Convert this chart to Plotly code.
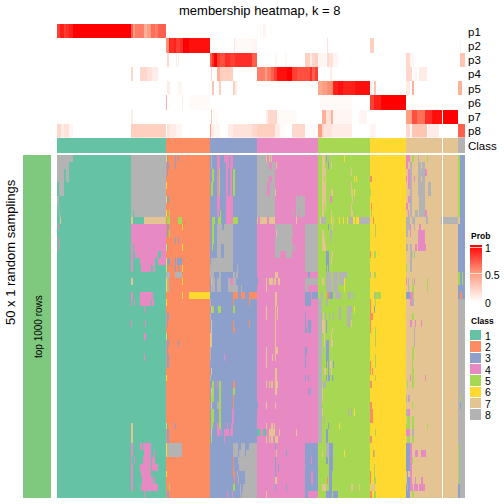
import numpy as np
import plotly.graph_objects as go

# ---------- data ----------
CLASS_LABELS = [1, 2, 3, 4, 5, 6, 7, 8]
CLASS_COLORS = ["#66C2A5", "#FC8D62", "#8DA0CB", "#E78AC3", "#A6D854", "#FFD92F", "#E5C494", "#B3B3B3"]
CLASS_SIZES = [109, 44, 47, 61, 52, 36, 52, 7]
GAP_SAMPLE = 385
N_ROWS = 50
PROB_LABELS = ["p1", "p2", "p3", "p4", "p5", "p6", "p7", "p8"]
PROB_TICKS = ["1", "0.5", "0"]

# Sample spans below are read in thirds of a sample, with an offset per half.
OFF_LEFT, OFF_RIGHT, OFF_PL, OFF_PR = -21, 579, -171, 585

# (first row, last row, class, [from, to, from, to ...])
PATCH_LEFT = [
 (0,0,8,[21,69]),(1,1,8,[21,57]),(2,3,8,[21,42,48,57]),(4,5,8,[27,42]),(6,6,8,[21,27]),(7,7,8,[24,27]),(8,8,8,[27,30]),
 (9,9,7,[30,33]),(10,10,4,[24,27]),(12,13,4,[27,30]),
 (0,8,8,[243,347]),(8,8,1,[249,252]),(9,9,7,[243,249,282,347]),(10,12,4,[243,347]),(13,13,4,[243,249,252,347]),
 (14,14,4,[243,249,255,323,333,347]),(15,15,4,[243,249,270,315,323,347]),(16,16,4,[243,249,273,303,309,315]),
 (18,18,7,[243,249]),(20,20,4,[243,249,270,309]),(21,21,4,[243,246,252,255,270,303,306,311]),(22,22,4,[282,285]),
 (24,24,4,[243,245,285,288]),(26,26,4,[282,288]),(29,29,4,[282,285]),(39,41,7,[243,249]),
 (42,42,4,[243,249,270,276,279,303]),(43,43,4,[243,249,282,303,312,315]),(44,44,4,[243,246,252,255,279,303,306,315]),
 (45,45,4,[243,249,270,303,306,324]),(46,46,4,[243,249,273,303]),(47,47,4,[243,249,276,309,312,315]),
 (48,48,4,[243,249,270,273,276,324]),(49,49,4,[282,285]),
 # class 2 block
 (0,0,6,[348,351]),(0,0,3,[351,354,375,378,384,387]),(1,1,3,[351,357,375,378]),(2,2,3,[351,354]),(4,4,6,[348,351]),
 (6,6,6,[348,351]),(6,6,3,[351,357]),(8,8,6,[348,351]),(8,8,5,[357,360]),(9,9,5,[351,360,384,396]),
 (10,10,3,[351,357]),(10,10,6,[396,399]),(11,11,5,[357,360]),(11,11,3,[351,354]),(12,12,3,[375,378,384,387]),
 (13,13,6,[348,351,396,399]),(13,13,3,[351,354]),(15,15,6,[348,351]),(15,15,3,[351,360,375,378,381,396]),
 (16,16,6,[348,351,396,399]),(16,16,3,[351,354,375,378,384,387]),(17,17,8,[348,360,375,396]),
 (18,18,6,[348,351,396,399]),(18,18,8,[351,357]),(19,19,6,[348,351]),(19,19,8,[351,357]),
 (20,20,6,[396,399,417,480]),(21,21,6,[348,351]),(23,23,3,[351,357]),(24,24,3,[351,354]),
 (26,26,6,[348,351]),(26,26,3,[351,354]),(27,27,3,[351,357,384,387]),(28,28,3,[351,354]),(29,30,3,[351,357]),
 (32,32,6,[348,351]),(39,39,6,[348,351]),(39,39,3,[351,354,375,378]),(40,41,3,[351,357]),
 (42,43,6,[348,351]),(42,43,8,[351,396]),(46,46,6,[348,351]),(48,48,5,[357,360]),(49,49,3,[351,357]),
 # class 3 block
 (0,0,4,[501,510,522,537,540,549]),(0,1,8,[483,486]),(1,1,4,[501,510,528,537,540,549]),
 (2,3,5,[486,492,507,510,549,555]),(2,3,4,[501,507,528,534,540,546]),
 (4,5,5,[483,489,507,510,549,555]),(4,5,4,[501,507,528,534,540,546]),
 (6,7,4,[501,510,528,549]),(8,8,4,[501,507,528,549]),(8,8,5,[510,513]),
 (9,9,5,[486,495,504,513,549,564]),(9,9,4,[528,549]),(9,9,7,[621,624]),
 (10,10,5,[486,492]),(10,10,8,[501,516,522,549]),(11,12,5,[486,492]),(11,12,8,[501,549]),
 (13,13,5,[486,489]),(13,14,8,[501,513,522,549]),(15,15,8,[483,549]),(16,16,8,[480,549,561,564]),
 (17,17,8,[480,492,507,513,549,555,558,564]),(18,18,8,[483,495,501,513,534,540,549,558]),(18,18,7,[483,486]),
 (18,18,4,[540,549]),(19,19,8,[483,495,501,513,534,564,573,576]),(20,20,2,[549,564,573,585,597,621]),
 (21,21,2,[549,552,597,600]),(21,21,8,[480,483]),(22,22,5,[486,492,504,513,549,555]),(22,22,7,[483,486]),
 (23,23,8,[480,483]),(24,24,7,[483,486]),(24,24,2,[549,552,597,600]),(25,25,7,[483,486]),(25,25,2,[549,555]),
 (26,27,7,[480,486]),(28,28,8,[480,483]),(29,29,8,[480,483]),(29,29,4,[522,525]),(31,31,7,[483,486]),(32,32,8,[480,483]),
 (33,33,5,[486,492,507,513]),(33,33,4,[501,504]),(33,33,2,[549,555]),(34,34,7,[483,486]),(34,34,5,[486,492,507,513,549,555]),
 (35,35,5,[483,492,507,513]),(35,35,2,[549,552]),(36,36,7,[483,486]),(36,36,8,[501,507]),(36,36,5,[507,513]),(36,36,2,[549,552]),
 (37,38,5,[483,492,507,513]),(37,38,4,[546,552]),(39,39,5,[483,489]),(39,39,4,[501,507,531,534,543,549]),(39,39,5,[507,513]),
 (40,40,7,[483,486]),(40,40,4,[501,510,513,516,522,537,540,549]),(41,41,5,[483,486]),(41,41,4,[522,525]),
 (42,42,8,[549,564,573,585,597,621]),(43,43,8,[549,564,567,585,588,621]),(44,44,2,[549,552]),(44,44,8,[564,621]),
 (45,45,2,[549,552]),(45,45,8,[567,621]),(46,46,2,[549,555]),(46,46,8,[561,564,585,621]),
 (47,47,2,[552,555]),(47,47,8,[564,567,585,621]),(48,48,5,[549,555]),(48,48,8,[570,573,579,621]),
 (49,49,4,[531,534,546,549]),(49,49,8,[570,573,576,621]),
]
PATCH_RIGHT = [
 # class 4 block
 (0,0,8,[21,48,60,63]),(0,0,7,[48,51,57,60,63,66]),(1,1,8,[21,57,66,75]),(1,1,7,[78,81]),(2,2,8,[21,75]),
 (3,3,8,[21,57,66,75]),(4,4,8,[21,51,60,75]),(5,5,8,[21,51,60,75]),(5,5,7,[75,78]),
 (6,6,8,[21,75,138,144,147,165]),(7,7,8,[21,75,138,165]),(8,8,8,[21,75,126,129,138,147,150,165]),
 (9,9,7,[21,24,30,51,57,75,138,141]),(10,10,8,[75,126,165,204]),(11,11,7,[78,81]),(11,11,8,[81,129,165,204]),
 (12,12,8,[75,126,165,204]),(13,13,8,[75,129,132,135,165,204]),(14,14,8,[75,90,108,126,165,204]),(15,16,8,[165,204]),
 (17,17,7,[75,84]),(17,17,3,[174,180]),(18,18,3,[21,24]),(18,18,7,[48,51,57,69,72,78,84,90]),(18,18,8,[165,204]),
 (19,19,7,[48,51]),(19,19,8,[165,174]),(20,20,7,[75,81]),(20,20,3,[165,183,186,204,237,249]),(20,20,8,[213,219]),(20,20,2,[232,237]),
 (21,21,7,[75,81]),(21,21,3,[165,183]),(22,22,7,[48,51,75,78,81,84]),(23,23,7,[48,51,75,78,81,84]),(23,23,3,[165,168]),
 (24,24,7,[75,78]),(24,24,3,[165,168,174,183]),(25,25,7,[75,78]),(25,25,3,[165,171,174,183]),(26,27,7,[75,78]),
 (28,28,7,[48,51,75,84]),(28,28,3,[165,171]),(29,29,7,[48,51,66,69,75,78]),(29,29,3,[165,168]),(30,30,7,[48,51]),(30,30,3,[165,168]),
 (31,31,7,[75,81]),(32,32,7,[75,81]),(32,32,3,[165,168,174,177]),(33,33,7,[48,51,57,60,63,69,75,84]),
 (34,34,7,[75,81]),(34,34,3,[174,177,180,183]),(36,36,3,[21,24]),(36,36,7,[48,51,75,78]),
 (39,39,7,[48,51,63,69,72,75]),(40,40,1,[21,30,39,48]),(40,40,7,[57,75,87,90,138,141]),(41,41,7,[48,51,57,60,63,69,75,84]),
 (42,42,3,[75,78,165,204]),(43,43,7,[78,81]),(43,43,3,[108,111,165,204]),(44,44,3,[75,78,165,183]),(44,44,4,[183,186]),(44,44,3,[186,204]),
 (45,45,3,[75,78,84,87,165,204]),(46,46,3,[75,78,165,183,189,204]),(46,46,4,[183,189]),(47,47,7,[75,81]),(47,47,3,[165,183,189,204]),(47,47,4,[183,189]),
 (48,48,3,[75,78,108,111,165,204]),(49,49,7,[48,51]),(49,49,3,[165,174]),
 # class 5 block
 (0,0,7,[216,225]),(0,0,3,[228,231]),(0,0,8,[234,238]),(0,0,6,[282,285]),(1,1,7,[216,225,243,246]),(1,1,3,[234,237]),
 (2,2,7,[216,228,303,306]),(3,3,7,[216,222,225,228]),(3,3,6,[312,315,318,321]),(4,4,7,[216,228,303,306]),
 (5,5,7,[216,228,243,249,303,309]),(5,5,6,[312,315]),(6,6,7,[216,228,306,309]),(6,6,4,[240,246]),
 (7,7,7,[216,222,225,228,303,306]),(8,8,7,[216,222,243,246,303,309]),
 (9,9,7,[210,213,249,252]),(9,9,8,[213,228,297,309,327,360]),(9,9,6,[243,246,267,270,279,282,291,294,309,315,318,327]),
 (10,10,3,[234,237]),(10,10,7,[246,249]),(11,11,7,[216,222]),(11,11,8,[240,246]),(12,12,7,[216,225]),(12,12,8,[240,243]),
 (13,13,7,[216,228]),(14,14,3,[228,237]),(14,14,7,[246,249]),(15,15,3,[228,237]),(15,15,7,[243,246]),(16,16,3,[228,231,234,237]),
 (17,17,8,[228,243,249,264,267,291]),(18,18,7,[216,222]),(18,18,8,[228,246,249,264,267,282]),(18,18,6,[282,285]),
 (19,19,8,[228,246,249,264]),(19,19,6,[282,285]),(20,20,8,[255,273,294,303,309,312]),(21,21,8,[204,216,228,234]),
 (22,22,8,[204,216,267,273,291,306]),(22,22,6,[312,315]),(23,23,8,[204,216,225,228,237,240,249,252,267,273,291,303]),(23,23,7,[219,222]),
 (24,24,8,[204,216,291,300]),(24,24,7,[216,225,303,306]),(24,24,3,[228,231]),(25,25,8,[204,216]),(25,25,7,[216,225,246,249]),(25,25,3,[228,231]),
 (26,26,8,[204,216]),(26,26,7,[222,225,243,246]),(27,27,8,[204,216]),(27,27,7,[222,225,243,249]),(27,27,3,[228,237]),
 (28,28,8,[204,216,219,222]),(28,28,3,[228,237]),(29,29,8,[204,216]),(29,29,3,[228,237]),
 (30,30,8,[204,216]),(30,30,3,[228,231,234,237,249,252]),(30,30,7,[240,246]),(31,31,8,[204,216]),(31,31,7,[222,228,243,246]),(31,31,3,[234,237]),
 (32,32,8,[204,216]),(32,32,3,[228,231,234,240,246,249]),(33,33,8,[204,216,219,228]),(34,35,8,[204,216]),(34,35,7,[216,219]),
 (36,36,8,[204,216]),(37,37,8,[204,216,294,297,303,306]),(37,37,7,[216,219]),(37,37,6,[312,315]),(38,38,8,[204,216,222,225]),
 (39,39,8,[204,216]),(39,39,3,[234,237]),(39,39,6,[267,270]),(40,41,8,[204,216]),(40,41,3,[228,234]),
 (42,42,8,[228,237]),(42,42,3,[237,249]),(43,43,7,[216,219]),(43,43,8,[228,237]),(43,43,3,[237,249]),(43,43,6,[282,285]),
 (44,44,3,[228,234,237,249]),(45,45,3,[237,249]),(46,46,3,[237,246]),(47,47,2,[231,234]),(47,47,3,[237,246]),
 (48,48,7,[216,228,303,309,327,330]),(48,48,3,[237,246]),(49,49,3,[228,246,249,264]),
 # class 6 block
 (3,3,2,[360,366]),(5,5,5,[360,363]),(7,7,2,[363,366]),(8,8,5,[363,366]),(9,9,2,[369,372]),(10,11,5,[375,378]),
 (14,14,2,[360,363]),(14,14,5,[372,378]),(17,17,8,[360,363]),(17,17,5,[372,378]),(20,20,8,[372,375]),(20,20,5,[375,393]),
 (21,21,2,[360,363]),(21,21,5,[375,378]),(22,22,2,[360,363]),(22,22,3,[372,375]),(23,23,2,[360,369]),(24,24,2,[360,363]),
 (25,25,2,[360,363]),(25,25,5,[375,378]),(26,27,5,[375,378]),(29,30,5,[375,378]),(30,30,2,[360,363]),(31,31,2,[360,363,366,369]),
 (32,32,5,[375,378]),(33,33,2,[360,366]),(36,36,2,[360,366]),(37,38,2,[360,369]),(40,40,5,[375,378]),(41,41,2,[360,366]),
 (43,43,2,[369,372]),(43,43,5,[372,375]),(45,46,5,[372,375]),(46,47,2,[360,363]),(47,47,5,[372,378]),(48,48,7,[363,375]),
 (49,49,2,[360,366]),(49,49,5,[372,378]),
 # class 7 block
 (0,0,4,[468,480]),(0,0,5,[486,492,531,534]),(0,0,8,[504,507]),(1,1,4,[468,474]),(1,1,8,[480,486,504,513,516,525]),
 (2,2,4,[474,480,525,531]),(2,2,8,[480,486,504,525]),(3,3,4,[468,471,474,480,492,495]),(3,3,8,[480,486,504,513,516,525]),
 (4,5,8,[480,486,504,525,534,543]),(4,4,4,[474,480]),(6,6,4,[474,480]),(6,6,8,[480,486,507,525]),(7,7,4,[468,474]),(7,7,8,[480,486,507,525]),
 (8,8,8,[480,486,495,504,507,525]),(8,8,4,[474,477,525,531]),(9,9,8,[468,480,486,495,528,534,573,624]),
 (10,10,8,[468,480,492,495]),(10,10,4,[480,483,507,513]),(11,11,8,[468,474]),(11,11,4,[480,483,504,525]),(12,12,4,[504,525]),
 (13,13,8,[468,474,480,486]),(13,13,4,[495,501,504,528]),(14,14,8,[480,486,492,495]),(14,14,5,[486,489]),(15,16,8,[480,486]),
 (16,16,5,[468,471]),(18,18,4,[468,471,492,495]),(18,18,8,[474,477]),(18,18,5,[486,489,531,534]),(19,19,8,[474,477]),(19,19,5,[486,492,531,534]),
 (20,20,3,[468,480]),(20,20,4,[480,489]),(20,20,5,[489,492]),(21,21,4,[480,486]),(21,21,8,[486,492]),(23,23,5,[486,492]),
 (24,24,4,[480,486,495,498,513,516]),(25,27,8,[492,495]),(28,29,5,[486,492]),(30,30,5,[486,489]),(31,31,5,[486,492]),
 (32,32,4,[480,483,525,528]),(32,32,5,[486,492]),(33,33,5,[471,474,486,492]),(35,35,8,[468,471,477,480]),(35,35,4,[474,477]),
 (36,36,5,[486,489]),(37,37,8,[468,474]),(37,37,4,[474,480]),(38,38,5,[471,480,486,492]),(39,39,5,[468,480,486,492,531,534]),
 (40,40,4,[468,480]),(40,40,8,[486,492]),(41,41,5,[471,480,486,492]),(42,42,3,[468,480]),(42,42,4,[480,486]),
 (43,43,3,[468,480]),(43,43,4,[480,486,495,504,513,528]),(44,44,3,[468,480]),(44,44,4,[480,486]),(44,44,5,[486,489]),
 (45,45,3,[468,480]),(45,45,4,[480,486]),(46,46,3,[471,474]),(46,46,4,[480,486]),(47,47,3,[471,480]),(47,47,4,[480,486,495,498,513,519]),
 (48,48,3,[468,471,474,480]),(48,48,8,[471,474]),(48,48,4,[480,489,492,504,507,525]),(49,49,3,[468,480]),(49,49,5,[486,492]),
 # class 8 block
 (0,19,3,[630,645]),(0,8,5,[624,630]),(9,9,7,[624,630]),(10,16,3,[624,630]),(17,18,5,[624,630,636,639]),(19,19,3,[624,630]),
 (20,20,2,[630,636]),(20,20,3,[624,630,636,645]),(35,35,5,[630,633]),(36,36,3,[630,633]),(42,47,5,[624,627]),(48,49,3,[624,630]),
]

# (probability row, from, to, value)
PROB_LEFT = [
 (0,171,180,.8),(0,180,192,.9),(0,192,198,.8),(0,198,207,.85),(0,207,219,.9),(0,219,393,1),(0,393,399,.7),(0,399,405,.5),(0,405,432,.6),
 (0,432,441,.4),(0,441,453,.5),(0,453,465,.65),(0,465,474,.6),(0,474,498,.7),
 (1,498,507,.55),(1,507,510,.9),(1,510,522,.85),(1,522,528,.9),(1,528,540,.8),(1,540,549,.85),(1,549,567,1),(1,567,630,.95),
 (1,702,705,.15),(1,705,756,.03),
 (2,501,507,.2),(2,528,531,.1),(2,534,537,.1),(2,630,636,.7),(2,636,642,.85),(2,642,651,1),(2,651,660,.8),(2,660,675,.75),(2,675,690,.85),(2,690,705,.8),(2,705,756,.85),
 (3,393,399,.2),(3,420,441,.2),(3,441,456,.15),(3,456,474,.1),(3,633,636,.2),(3,651,660,.4),(3,660,672,.25),(3,672,699,.25),
 (4,501,510,.1),(4,534,546,.05),(4,636,642,.3),(4,657,663,.25),(4,699,705,.25),(4,705,710,.1),
 (5,498,501,.4),(5,546,549,.1),(5,567,630,.03),
 (6,393,399,.1),(6,633,636,.3),(6,640,655,.03),
 (7,171,183,.2),(7,183,192,.1),(7,192,207,.15),(7,207,219,.05),(7,393,498,.25),(7,501,510,.15),(7,510,528,.1),(7,528,546,.05),
 (7,630,633,.5),(7,633,642,.1),(7,642,660,.05),(7,684,699,.1),(7,699,756,.15),
]
PROB_RIGHT = [
 (0,15,18,.05),(0,24,27,.05),(0,33,42,.05),
 (1,0,15,.05),(1,225,228,.15),(1,354,366,.25),(1,624,627,.05),
 (2,0,15,.7),(2,69,75,.05),(2,100,105,.05),(2,159,174,.25),(2,174,179,.1),(2,179,189,.2),(2,189,198,.25),(2,198,222,.05),(2,225,231,.2),(2,231,244,.15),(2,244,258,.05),(2,462,474,.2),(2,474,486,.05),(2,624,638,.3),
 (3,15,39,.6),(3,39,45,.5),(3,45,57,.6),(3,57,65,.7),(3,65,75,.8),(3,75,105,.95),(3,105,120,1),(3,120,134,.8),(3,134,149,.75),(3,149,174,.75),(3,174,179,.85),(3,179,189,.7),(3,189,198,.8),(3,234,240,.1),(3,462,480,.2),(3,486,495,.05),(3,501,525,.1),
 (4,198,209,.45),(4,209,224,.5),(4,224,244,.55),(4,244,259,.9),(4,259,274,.95),(4,274,309,.9),(4,309,354,.95),(4,357,360,.1),(4,366,372,.3),(4,462,474,.1),(4,480,486,.4),(4,618,630,.4),
 (5,204,300,.03),(5,354,366,.8),(5,366,387,.9),(5,387,462,1),
 (6,42,48,.1),(6,48,75,.2),(6,75,135,.03),(6,210,222,.4),(6,222,237,.15),(6,237,243,.4),(6,243,300,.05),(6,320,345,.05),
 (6,462,480,.5),(6,480,495,.75),(6,495,520,.65),(6,520,540,.85),(6,540,570,.95),(6,573,618,1),
 (7,0,15,.2),(7,15,69,.25),(7,69,84,.1),(7,84,100,.03),(7,120,160,.2),(7,160,198,.02),(7,198,210,.5),(7,210,216,.2),(7,216,240,.15),(7,240,300,.1),
 (7,354,372,.05),(7,462,474,.2),(7,474,480,.05),(7,480,525,.3),(7,528,560,.1),(7,618,640,.7),
]

# ---------- build matrices ----------
n_samples = sum(CLASS_SIZES)
base = np.repeat(CLASS_LABELS, CLASS_SIZES).astype(float)
main = np.tile(base, (N_ROWS, 1))
def apply_patches(patches, off):
    for r0, r1, cls, spans in patches:
        for a, b in zip(spans[0::2], spans[1::2]):
            main[r0:r1 + 1, round((a + off) / 3):round((b + off) / 3)] = cls
apply_patches(PATCH_LEFT, OFF_LEFT)
apply_patches(PATCH_RIGHT, OFF_RIGHT)
prob = np.zeros((len(PROB_LABELS), n_samples))
for runs, off in ((PROB_LEFT, OFF_PL), (PROB_RIGHT, OFF_PR)):
    for r, a, b, v in runs:
        prob[r, round((a + off) / 3):round((b + off) / 3)] = v
top = base.copy()
for m in (main, prob):
    m[:, GAP_SAMPLE] = np.nan
top[GAP_SAMPLE] = np.nan

n = len(CLASS_COLORS)
cscale = []
for i, c in enumerate(CLASS_COLORS):
    cscale += [[i / n, c], [(i + 1) / n, c]]
disc = dict(colorscale=cscale, zmin=0.5, zmax=8.5, showscale=False, hoverinfo="skip")

def px_x(a, b): return [a / 504, b / 504]
def px_y(a, b): return [1 - b / 504, 1 - a / 504]

fig = go.Figure()
fig.add_trace(go.Heatmap(z=prob, xaxis="x", yaxis="y", zmin=0, zmax=1, hoverinfo="skip",
    colorscale=[[0, "#FFFFFF"], [0.5, "#FF9E81"], [1, "#FF0000"]],
    colorbar=dict(x=470 / 504, xanchor="left", xpad=0, y=1 - 302 / 504, yanchor="bottom", ypad=0,
                  thickness=12, thicknessmode="pixels", len=57, lenmode="pixels", outlinewidth=0,
                  tickvals=[0.5, 0.96], ticks="inside", ticklen=12, tickcolor="rgba(255,255,255,0.7)",
                  showticklabels=False)))
fig.add_trace(go.Heatmap(z=[top], xaxis="x2", yaxis="y2", **disc))
fig.add_trace(go.Heatmap(z=main, xaxis="x3", yaxis="y3", **disc))
fig.add_trace(go.Heatmap(z=[[1]], xaxis="x4", yaxis="y4", showscale=False, hoverinfo="skip",
                         colorscale=[[0, "#7FC97F"], [1, "#7FC97F"]]))
fig.add_trace(go.Heatmap(z=[[c] for c in CLASS_LABELS], xaxis="x5", yaxis="y5", ygap=1, xgap=1, **disc))

blank = dict(visible=False, fixedrange=True)
xr = dict(range=[-0.5, n_samples - 0.5])
fig.update_layout(
    width=504, height=504, autosize=False, margin=dict(l=0, r=0, t=0, b=0),
    paper_bgcolor="white", plot_bgcolor="white",
    font=dict(family="Liberation Sans, Arial, sans-serif", color="#000000"),
    xaxis=dict(domain=px_x(57, 465), **xr, **blank),
    yaxis=dict(domain=px_y(24, 137.5), anchor="x", range=[7.5, -0.5], **blank),
    xaxis2=dict(domain=px_x(57, 465), anchor="y2", **xr, **blank),
    yaxis2=dict(domain=px_y(138, 153), anchor="x2", range=[-0.5, 0.5], **blank),
    xaxis3=dict(domain=px_x(57, 465), anchor="y3", **xr, **blank),
    yaxis3=dict(domain=px_y(155, 498), anchor="x3", range=[N_ROWS - 0.5, -0.5], **blank),
    xaxis4=dict(domain=px_x(23, 51), anchor="y4", range=[-0.5, 0.5], **blank),
    yaxis4=dict(domain=px_y(155, 498), anchor="x4", range=[-0.5, 0.5], **blank),
    xaxis5=dict(domain=px_x(470, 482), anchor="y5", range=[-0.5, 0.5], **blank),
    yaxis5=dict(domain=px_y(330, 420.6), anchor="x5", range=[7.5, -0.5], **blank),
)

def note(x, y, text, size, xanchor="left", angle=0):
    fig.add_annotation(x=x / 504, y=1 - y / 504, xref="paper", yref="paper", text=text, showarrow=False,
                       xanchor=xanchor, yanchor="middle", textangle=angle, font=dict(size=size), borderpad=0, borderwidth=0)

note(260, 10, "membership heatmap, k = 8", 13, "center")
for i, lab in enumerate(PROB_LABELS):
    note(468, 32 + i * 14.13, lab, 11.5)
note(468, 146, "Class", 11.5)
note(10, 252, "50 x 1 random samplings", 13, "center", -90)
note(38, 327, "top 1000 rows", 10, "center", -90)
note(471, 236, "<b>Prob</b>", 8.5)
for y, lab in zip((248, 275, 303), PROB_TICKS):
    note(485, y, lab, 10.5)
note(471, 321, "<b>Class</b>", 8.5)
for i, c in enumerate(CLASS_LABELS):
    note(485, 335.7 + i * 11.33, str(c), 10.5)

fig.write_html("out.html", config=dict(displayModeBar=False, staticPlot=True),
               post_script="document.body.style.margin='0';document.documentElement.style.overflow='hidden';")
